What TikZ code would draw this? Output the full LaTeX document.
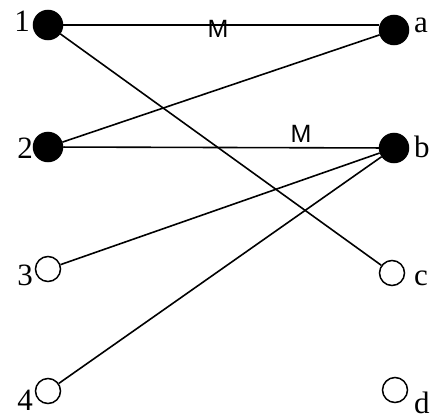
\documentclass[tikz,border=0pt]{standalone}
\usepackage{fontspec}
\setmainfont{Liberation Serif}
\newfontfamily\msans{Liberation Sans}
\begin{document}
\begin{tikzpicture}[x=1pt,y=1pt,
  full/.style={circle,draw,fill=black,line width=1.5pt,minimum size=29pt,inner sep=0pt},
  empty/.style={circle,draw,fill=white,line width=1.5pt,minimum size=25pt,inner sep=0pt},
  lab/.style={font=\fontsize{31}{33}\selectfont,inner sep=0pt},
  mlab/.style={font=\msans\fontsize{25}{27}\selectfont,inner sep=0pt},
  edge/.style={line width=1.6pt}]
\useasboundingbox (0,0) rectangle (435,416);
\node[full] (n1) at (48,391) {};
\node[full] (n2) at (48,269) {};
\node[empty] (n3) at (48,147) {};
\node[empty] (n4) at (48,25) {};
\node[full] (na) at (394,386) {};
\node[full] (nb) at (394,268) {};
\node[empty] (nc) at (392,143) {};
\node[empty] (nd) at (395,26) {};
\node[lab,anchor=base east] (l1) at (30,384) {1};
\node[lab,anchor=base east] (l2) at (33,258) {2};
\node[lab,anchor=base east] (l3) at (33,131) {3};
\node[lab,anchor=base east] (l4) at (33,6) {4};
\node[lab,anchor=base west] (la) at (414,383) {a};
\node[lab,anchor=base west] (lb) at (414,259) {b};
\node[lab,anchor=base west] (lc) at (414,131) {c};
\node[lab,anchor=base west] (ld) at (414,3) {d};
\draw[edge] (n1) -- (na.west |- n1);
\draw[edge] (n1) -- (nc);
\draw[edge] (n2) -- (na);
\draw[edge] (n2) -- (nb);
\draw[edge] (n3) -- (nb);
\draw[edge] (n4) -- (nb);
\node[mlab] (m1) at (218,387.5) {M};
\node[mlab] (m2) at (301,282) {M};
\end{tikzpicture}
\end{document}
